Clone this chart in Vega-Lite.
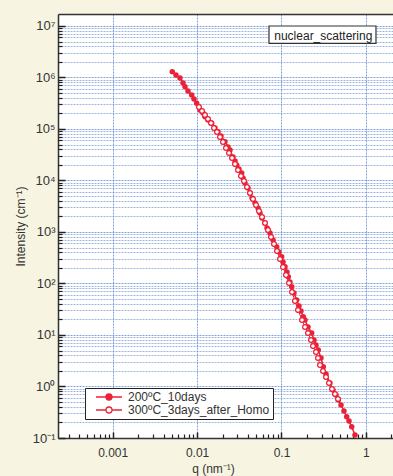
{
  "$schema": "https://vega.github.io/schema/vega-lite/v6.json",
  "width": 335,
  "height": 424,
  "autosize": {"type": "none"},
  "padding": {"left": 58, "top": 14, "right": 0, "bottom": 38},
  "background": "#f7f5e2",
  "view": {"fill": "white", "stroke": null},
  "config": {"font": "Liberation Sans"},
  "datasets": {
    "s1": [
      {"q": 0.00508, "I": 1300000}, {"q": 0.00562, "I": 1120000}, {"q": 0.00627, "I": 978000},
      {"q": 0.00681, "I": 782000}, {"q": 0.00719, "I": 663000}, {"q": 0.0078, "I": 547000},
      {"q": 0.00863, "I": 457000}, {"q": 0.00919, "I": 382000}, {"q": 0.00989, "I": 316000},
      {"q": 0.01083, "I": 234000}, {"q": 0.01174, "I": 205000}, {"q": 0.0124, "I": 173000},
      {"q": 0.01346, "I": 150000}, {"q": 0.01489, "I": 129000}, {"q": 0.0163, "I": 104600},
      {"q": 0.01769, "I": 88700}, {"q": 0.0192, "I": 73100}, {"q": 0.02141, "I": 56700},
      {"q": 0.02323, "I": 44700}, {"q": 0.02454, "I": 39100}, {"q": 0.02663, "I": 28600},
      {"q": 0.02813, "I": 23900}, {"q": 0.02946, "I": 20000}, {"q": 0.03136, "I": 16730},
      {"q": 0.03377, "I": 13980}, {"q": 0.03499, "I": 11180}, {"q": 0.03695, "I": 8940},
      {"q": 0.04009, "I": 7150}, {"q": 0.04234, "I": 5720}, {"q": 0.04471, "I": 4570},
      {"q": 0.04853, "I": 3660}, {"q": 0.05268, "I": 2920}, {"q": 0.05563, "I": 2340},
      {"q": 0.05875, "I": 1870}, {"q": 0.06375, "I": 1496}, {"q": 0.06733, "I": 1196},
      {"q": 0.07305, "I": 956}, {"q": 0.07931, "I": 699}, {"q": 0.08771, "I": 518},
      {"q": 0.09341, "I": 409}, {"q": 0.10055, "I": 331}, {"q": 0.10419, "I": 261},
      {"q": 0.11003, "I": 212}, {"q": 0.1162, "I": 167}, {"q": 0.12039, "I": 135.5},
      {"q": 0.12609, "I": 107}, {"q": 0.13208, "I": 86.7}, {"q": 0.1406, "I": 65.4},
      {"q": 0.1514, "I": 47.8}, {"q": 0.16119, "I": 36.6}, {"q": 0.17022, "I": 29.2},
      {"q": 0.1813, "I": 22.7}, {"q": 0.18988, "I": 19.6}, {"q": 0.20606, "I": 14.3},
      {"q": 0.22788, "I": 10.9}, {"q": 0.24266, "I": 8.0}, {"q": 0.25628, "I": 6.39},
      {"q": 0.2729, "I": 5.11}, {"q": 0.29376, "I": 3.58}, {"q": 0.31282, "I": 2.42},
      {"q": 0.33674, "I": 1.75}, {"q": 0.37553, "I": 1.17}, {"q": 0.40753, "I": 0.855},
      {"q": 0.44219, "I": 0.684}, {"q": 0.47098, "I": 0.547}, {"q": 0.50699, "I": 0.437},
      {"q": 0.55014, "I": 0.334}, {"q": 0.59224, "I": 0.259}, {"q": 0.63067, "I": 0.214},
      {"q": 0.6792, "I": 0.166}, {"q": 0.74302, "I": 0.114}
    ],
    "s2": [
      {"q": 0.01053, "I": 267400}, {"q": 0.01143, "I": 223600}, {"q": 0.0124, "I": 187000},
      {"q": 0.01346, "I": 156400}, {"q": 0.01461, "I": 130800}, {"q": 0.01586, "I": 104600},
      {"q": 0.01721, "I": 87400}, {"q": 0.01868, "I": 69900}, {"q": 0.02027, "I": 55900},
      {"q": 0.022, "I": 42800}, {"q": 0.02388, "I": 34200}, {"q": 0.02592, "I": 27300},
      {"q": 0.02813, "I": 20900}, {"q": 0.03052, "I": 16000}, {"q": 0.03312, "I": 12230},
      {"q": 0.03596, "I": 9780}, {"q": 0.03901, "I": 7480}, {"q": 0.04234, "I": 5720},
      {"q": 0.04595, "I": 4370}, {"q": 0.04988, "I": 3340}, {"q": 0.05412, "I": 2560},
      {"q": 0.05875, "I": 1960}, {"q": 0.06375, "I": 1496}, {"q": 0.06918, "I": 1094},
      {"q": 0.07509, "I": 800}, {"q": 0.08149, "I": 585}, {"q": 0.08844, "I": 428},
      {"q": 0.09598, "I": 299}, {"q": 0.10419, "I": 209}, {"q": 0.11306, "I": 146},
      {"q": 0.12272, "I": 102}, {"q": 0.13316, "I": 68.4}, {"q": 0.14454, "I": 45.7},
      {"q": 0.15687, "I": 30.6}, {"q": 0.17495, "I": 19.56}, {"q": 0.18988, "I": 14.3},
      {"q": 0.20606, "I": 10.9}, {"q": 0.2236, "I": 8.0}, {"q": 0.23611, "I": 6.11},
      {"q": 0.25628, "I": 4.68}, {"q": 0.2707, "I": 3.58}, {"q": 0.28586, "I": 2.62},
      {"q": 0.31027, "I": 2.0}, {"q": 0.33674, "I": 1.53}, {"q": 0.36541, "I": 1.17},
      {"q": 0.39654, "I": 0.894}, {"q": 0.43035, "I": 0.715}, {"q": 0.46709, "I": 0.572}
    ],
    "note": [
      {"label": "nuclear_scattering", "q": 0.3128, "I": 6400000, "q_lo": 0.0711, "q_hi": 1.317, "I_lo": 4610000, "I_hi": 10000000}
    ]
  },
  "layer": [
    {
      "data": {"name": "s1"},
      "mark": {"type": "line", "color": "#ea2238", "strokeWidth": 1.5},
      "encoding": {
        "x": {
          "field": "q", "type": "quantitative",
          "scale": {"type": "log", "domain": [0.0002248, 2.095], "nice": false},
          "axis": {
            "orient": "bottom", "title": "q (nm⁻¹)",
            "values": [0.001, 0.01, 0.1, 1],
            "labelExpr": "datum.value > 0.5 ? '1' : datum.value > 0.05 ? '0.1' : datum.value > 0.005 ? '0.01' : '0.001'",
            "grid": true, "gridColor": "#5a86cf", "gridDash": [2, 1], "gridOpacity": 0.75, "gridWidth": 1,
            "tickSize": -6, "tickWidth": 1.5, "tickColor": "#222",
            "domainColor": "#333", "domainWidth": 1.5,
            "labelPadding": 15, "labelFontSize": 12, "labelColor": "#333", "labelFont": "Liberation Sans",
            "titleFont": "Liberation Sans", "titleFontSize": 12, "titleFontWeight": "normal", "titleColor": "#333",
            "titlePadding": 5, "titleX": 155
          }
        },
        "y": {
          "field": "I", "type": "quantitative",
          "scale": {"type": "log", "domain": [0.1, 17100000], "nice": false},
          "axis": {
            "orient": "left", "title": "Intensity (cm⁻¹)",
            "values": [0.1, 1, 10, 100, 1000, 10000, 100000, 1000000, 10000000],
            "labelExpr": "'10' + ['⁻¹','⁰','¹','²','³','⁴','⁵','⁶','⁷'][round(log(datum.value)/LN10)+1]",
            "grid": true, "gridColor": "#5a86cf", "gridDash": [2, 1], "gridOpacity": 0.75, "gridWidth": 1,
            "tickSize": -7, "tickWidth": 1.5, "tickColor": "#222",
            "domainColor": "#333", "domainWidth": 1.5,
            "labelPadding": 10, "labelFontSize": 13, "labelColor": "#333", "labelFont": "Liberation Sans",
            "titleFont": "Liberation Sans", "titleFontSize": 12, "titleFontWeight": "normal", "titleColor": "#333",
            "titlePadding": 5
          }
        }
      }
    },
    {
      "data": {"name": "s1"},
      "mark": {"type": "point", "shape": "circle", "filled": true, "size": 30, "color": "#ea2238", "opacity": 1},
      "encoding": {
        "x": {"field": "q", "type": "quantitative", "scale": {"type": "log", "domain": [0.0002248, 2.095], "nice": false}, "axis": null},
        "y": {"field": "I", "type": "quantitative", "scale": {"type": "log", "domain": [0.1, 17100000], "nice": false}, "axis": null}
      }
    },
    {
      "data": {"name": "s2"},
      "mark": {"type": "line", "color": "#ea2238", "strokeWidth": 1},
      "encoding": {
        "x": {
          "field": "q", "type": "quantitative",
          "scale": {"type": "log", "domain": [0.0002248, 2.095], "nice": false},
          "axis": {
            "orient": "bottom", "title": null, "labels": false, "domain": false, "grid": false,
            "values": [0.0003, 0.0004, 0.0005, 0.0006, 0.0007, 0.0008, 0.0009,
                       0.002, 0.003, 0.004, 0.005, 0.006, 0.007, 0.008, 0.009,
                       0.02, 0.03, 0.04, 0.05, 0.06, 0.07, 0.08, 0.09,
                       0.2, 0.3, 0.4, 0.5, 0.6, 0.7, 0.8, 0.9, 2],
            "tickSize": -4, "tickWidth": 1.2, "tickColor": "#222"
          }
        },
        "y": {
          "field": "I", "type": "quantitative",
          "scale": {"type": "log", "domain": [0.1, 17100000], "nice": false},
          "axis": {
            "orient": "left", "title": null, "labels": false, "domain": false,
            "values": [0.2, 0.3, 0.4, 0.5, 0.6, 0.7, 0.8, 0.9,
                       2, 3, 4, 5, 6, 7, 8, 9,
                       20, 30, 40, 50, 60, 70, 80, 90,
                       200, 300, 400, 500, 600, 700, 800, 900,
                       2000, 3000, 4000, 5000, 6000, 7000, 8000, 9000,
                       20000, 30000, 40000, 50000, 60000, 70000, 80000, 90000,
                       200000, 300000, 400000, 500000, 600000, 700000, 800000, 900000,
                       2000000, 3000000, 4000000, 5000000, 6000000, 7000000, 8000000, 9000000],
            "grid": true, "gridColor": "#5a86cf", "gridDash": [2, 1], "gridOpacity": 0.6, "gridWidth": 1,
            "tickSize": -4, "tickWidth": 1.2, "tickColor": "#222"
          }
        }
      }
    },
    {
      "data": {"name": "s2"},
      "mark": {"type": "point", "shape": "circle", "filled": true, "fill": "white", "stroke": "#ea2238", "strokeWidth": 1.3, "size": 22, "opacity": 1},
      "encoding": {
        "x": {"field": "q", "type": "quantitative", "scale": {"type": "log", "domain": [0.0002248, 2.095], "nice": false}, "axis": null},
        "y": {"field": "I", "type": "quantitative", "scale": {"type": "log", "domain": [0.1, 17100000], "nice": false}, "axis": null}
      }
    },
    {
      "data": {"name": "note"},
      "mark": {"type": "rect", "fill": "white", "stroke": "#333", "strokeWidth": 1.2},
      "encoding": {
        "x": {
          "field": "q_lo", "type": "quantitative",
          "scale": {"type": "log", "domain": [0.0002248, 2.095], "nice": false},
          "axis": {"orient": "top", "title": null, "labels": false, "ticks": false, "grid": false, "domain": true, "domainColor": "#333", "domainWidth": 1.5}
        },
        "x2": {"field": "q_hi"},
        "y": {"field": "I_lo", "type": "quantitative", "scale": {"type": "log", "domain": [0.1, 17100000], "nice": false}, "axis": null},
        "y2": {"field": "I_hi"}
      }
    },
    {
      "data": {"name": "note"},
      "mark": {"type": "text", "font": "Liberation Sans", "fontSize": 12, "color": "#222", "align": "center", "baseline": "middle"},
      "encoding": {
        "x": {"field": "q", "type": "quantitative", "scale": {"type": "log", "domain": [0.0002248, 2.095], "nice": false}, "axis": null},
        "y": {"field": "I", "type": "quantitative", "scale": {"type": "log", "domain": [0.1, 17100000], "nice": false}, "axis": null},
        "text": {"field": "label"}
      }
    },
    {
      "data": {"values": [{"series": "200ºC_10days"}, {"series": "300ºC_3days_after_Homo"}]},
      "mark": {"type": "point", "filled": true, "opacity": 0, "stroke": "#ea2238"},
      "encoding": {
        "fill": {
          "field": "series", "type": "nominal",
          "scale": {"domain": ["200ºC_10days", "300ºC_3days_after_Homo"], "range": ["#ea2238", "#ffffff"]},
          "legend": {
            "title": null, "orient": "none", "legendX": 27, "legendY": 374,
            "symbolType": "M-3.25,0H-0.75M0.75,0H3.25M0.75,0A0.75,0.75,0,1,1,-0.75,0A0.75,0.75,0,1,1,0.75,0Z",
            "symbolSize": 64, "symbolStrokeColor": "#ea2238", "symbolStrokeWidth": 1.3, "symbolOpacity": 1,
            "symbolOffset": 15, "labelOffset": 13,
            "labelFont": "Liberation Sans", "labelFontSize": 12, "labelColor": "#333",
            "strokeColor": "#222", "fillColor": "white", "padding": 3, "rowPadding": 1
          }
        }
      }
    }
  ],
  "resolve": {"axis": {"x": "independent", "y": "independent"}}
}
